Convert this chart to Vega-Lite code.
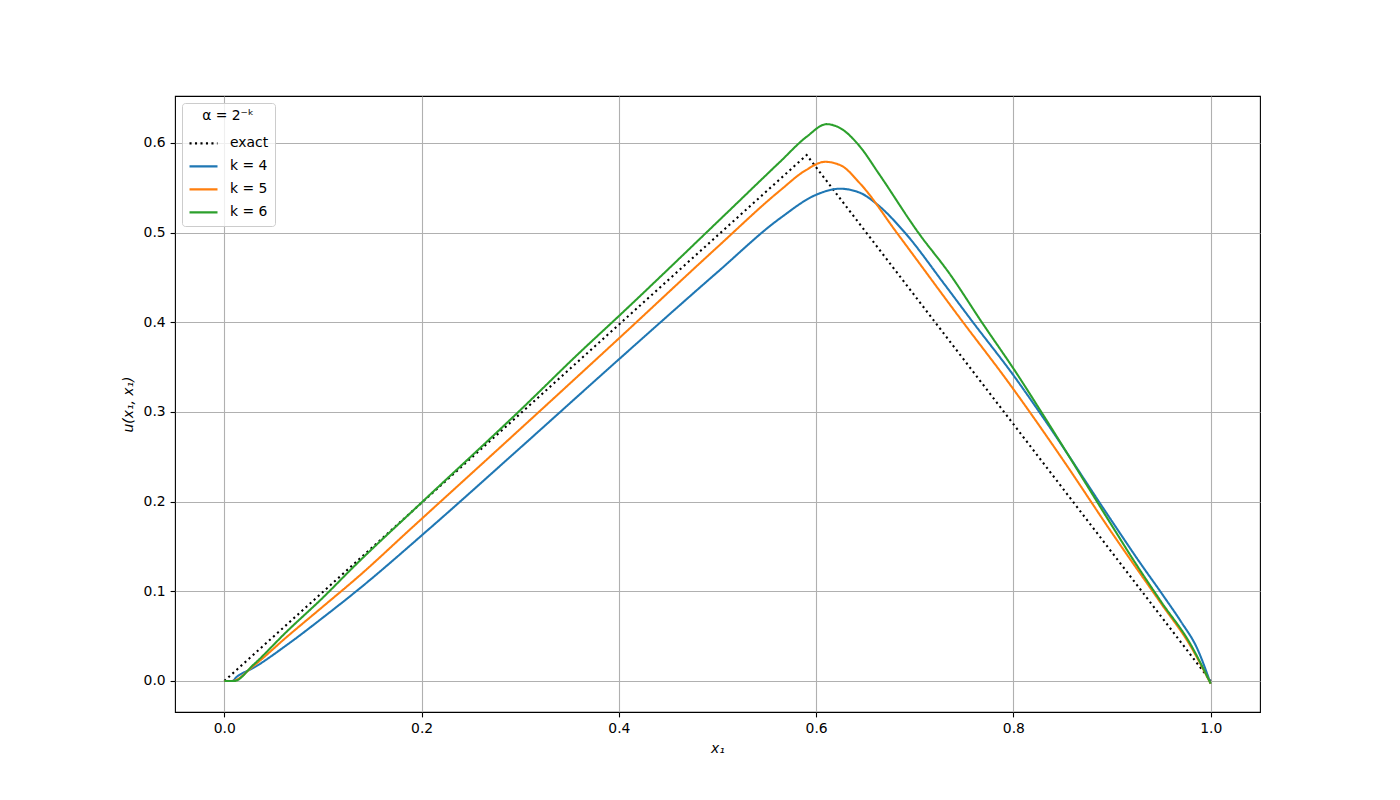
{
  "$schema": "https://vega.github.io/schema/vega-lite/v6.json",
  "width": 1085,
  "height": 616,
  "autosize": {"type": "none"},
  "padding": {"left": 175, "top": 96, "right": 140, "bottom": 88},
  "background": "white",
  "config": {
    "font": "DejaVu Sans",
    "view": {"stroke": "black", "strokeWidth": 1.1},
    "axis": {
      "domain": false,
      "grid": true,
      "gridColor": "#b0b0b0",
      "gridWidth": 1.1,
      "tickColor": "black",
      "tickSize": 4.9,
      "tickWidth": 1.1,
      "labelFontSize": 13.9,
      "labelColor": "black",
      "labelPadding": 4.9,
      "titleFontSize": 13.9,
      "titleFontWeight": "normal",
      "titleColor": "black"
    }
  },
  "data": {
    "values": [
      {"series": "exact", "x": 0, "y": 0},
      {"series": "exact", "x": 0.5904, "y": 0.5866},
      {"series": "exact", "x": 1, "y": 0},

      {"series": "k = 4", "x": 0, "y": 0},
      {"series": "k = 4", "x": 0.008, "y": 0},
      {"series": "k = 4", "x": 0.0125, "y": 0.0045},
      {"series": "k = 4", "x": 0.0294, "y": 0.0145},
      {"series": "k = 4", "x": 0.0632, "y": 0.040},
      {"series": "k = 4", "x": 0.1, "y": 0.0707},
      {"series": "k = 4", "x": 0.1376, "y": 0.1035},
      {"series": "k = 4", "x": 0.206, "y": 0.168},
      {"series": "k = 4", "x": 0.3, "y": 0.260},
      {"series": "k = 4", "x": 0.4, "y": 0.3587},
      {"series": "k = 4", "x": 0.5, "y": 0.456},
      {"series": "k = 4", "x": 0.5634, "y": 0.516},
      {"series": "k = 4", "x": 0.6006, "y": 0.5425},
      {"series": "k = 4", "x": 0.624, "y": 0.549},
      {"series": "k = 4", "x": 0.6444, "y": 0.5445},
      {"series": "k = 4", "x": 0.6614, "y": 0.532},
      {"series": "k = 4", "x": 0.690, "y": 0.5},
      {"series": "k = 4", "x": 0.729, "y": 0.444},
      {"series": "k = 4", "x": 0.759, "y": 0.4},
      {"series": "k = 4", "x": 0.8, "y": 0.341},
      {"series": "k = 4", "x": 0.83, "y": 0.294},
      {"series": "k = 4", "x": 0.9, "y": 0.178},
      {"series": "k = 4", "x": 0.927, "y": 0.134},
      {"series": "k = 4", "x": 0.952, "y": 0.095},
      {"series": "k = 4", "x": 0.97, "y": 0.066},
      {"series": "k = 4", "x": 0.986, "y": 0.037},
      {"series": "k = 4", "x": 1, "y": -0.003},

      {"series": "k = 5", "x": 0, "y": 0},
      {"series": "k = 5", "x": 0.008, "y": 0},
      {"series": "k = 5", "x": 0.0294, "y": 0.0167},
      {"series": "k = 5", "x": 0.0632, "y": 0.049},
      {"series": "k = 5", "x": 0.1, "y": 0.083},
      {"series": "k = 5", "x": 0.1376, "y": 0.118},
      {"series": "k = 5", "x": 0.1873, "y": 0.168},
      {"series": "k = 5", "x": 0.3, "y": 0.281},
      {"series": "k = 5", "x": 0.4, "y": 0.382},
      {"series": "k = 5", "x": 0.5, "y": 0.484},
      {"series": "k = 5", "x": 0.5634, "y": 0.547},
      {"series": "k = 5", "x": 0.59, "y": 0.570},
      {"series": "k = 5", "x": 0.609, "y": 0.579},
      {"series": "k = 5", "x": 0.625, "y": 0.575},
      {"series": "k = 5", "x": 0.6444, "y": 0.555},
      {"series": "k = 5", "x": 0.6817, "y": 0.5},
      {"series": "k = 5", "x": 0.749, "y": 0.4},
      {"series": "k = 5", "x": 0.793, "y": 0.336},
      {"series": "k = 5", "x": 0.85, "y": 0.247},
      {"series": "k = 5", "x": 0.9, "y": 0.165},
      {"series": "k = 5", "x": 0.95, "y": 0.086},
      {"series": "k = 5", "x": 0.979, "y": 0.040},
      {"series": "k = 5", "x": 1, "y": -0.003},

      {"series": "k = 6", "x": 0, "y": 0},
      {"series": "k = 6", "x": 0.01, "y": 0},
      {"series": "k = 6", "x": 0.0294, "y": 0.018},
      {"series": "k = 6", "x": 0.0632, "y": 0.055},
      {"series": "k = 6", "x": 0.1, "y": 0.093},
      {"series": "k = 6", "x": 0.1308, "y": 0.127},
      {"series": "k = 6", "x": 0.2, "y": 0.199},
      {"series": "k = 6", "x": 0.3, "y": 0.302},
      {"series": "k = 6", "x": 0.36, "y": 0.366},
      {"series": "k = 6", "x": 0.4, "y": 0.407},
      {"series": "k = 6", "x": 0.5, "y": 0.512},
      {"series": "k = 6", "x": 0.5634, "y": 0.579},
      {"series": "k = 6", "x": 0.5904, "y": 0.607},
      {"series": "k = 6", "x": 0.6107, "y": 0.621},
      {"series": "k = 6", "x": 0.6237, "y": 0.617},
      {"series": "k = 6", "x": 0.6444, "y": 0.596},
      {"series": "k = 6", "x": 0.663, "y": 0.5667},
      {"series": "k = 6", "x": 0.7036, "y": 0.5},
      {"series": "k = 6", "x": 0.7357, "y": 0.4536},
      {"series": "k = 6", "x": 0.768, "y": 0.4},
      {"series": "k = 6", "x": 0.8033, "y": 0.343},
      {"series": "k = 6", "x": 0.83, "y": 0.297},
      {"series": "k = 6", "x": 0.9, "y": 0.173},
      {"series": "k = 6", "x": 0.9216, "y": 0.135},
      {"series": "k = 6", "x": 0.95, "y": 0.088},
      {"series": "k = 6", "x": 0.979, "y": 0.042},
      {"series": "k = 6", "x": 1, "y": -0.003}
    ]
  },
  "encoding": {
    "x": {
      "field": "x",
      "type": "quantitative",
      "scale": {"domain": [-0.05, 1.05], "nice": false, "zero": false},
      "axis": {
        "values": [0, 0.2, 0.4, 0.6, 0.8, 1.0],
        "format": ".1f",
        "title": "x₁",
        "titleFontStyle": "italic",
        "titlePadding": 6
      }
    },
    "y": {
      "field": "y",
      "type": "quantitative",
      "scale": {"domain": [-0.0346, 0.6524], "nice": false, "zero": false},
      "axis": {
        "values": [0, 0.1, 0.2, 0.3, 0.4, 0.5, 0.6],
        "format": ".1f",
        "title": "u(x₁, x₁)",
        "titleFontStyle": "italic",
        "titlePadding": 8
      }
    },
    "color": {
      "field": "series",
      "type": "nominal",
      "scale": {
        "domain": ["exact", "k = 4", "k = 5", "k = 6"],
        "range": ["black", "#1f77b4", "#ff7f0e", "#2ca02c"]
      },
      "legend": {
        "title": "α = 2⁻ᵏ",
        "orient": "top-left",
        "offset": 7,
        "titleFontWeight": "normal",
        "titleFontSize": 13.9,
        "titleColor": "black",
        "titleAnchor": "middle",
        "titleAlign": "center",
        "titlePadding": 5,
        "labelFontSize": 13.9,
        "labelColor": "black",
        "labelOffset": 11,
        "symbolType": "stroke",
        "symbolSize": 784,
        "symbolStrokeWidth": 2.08,
        "strokeColor": "#cccccc",
        "fillColor": "rgba(255,255,255,0.8)",
        "cornerRadius": 3,
        "padding": 6,
        "rowPadding": -3
      }
    },
    "strokeDash": {
      "field": "series",
      "type": "nominal",
      "scale": {
        "domain": ["exact", "k = 4", "k = 5", "k = 6"],
        "range": [[2.08, 3.4], [1, 0], [1, 0], [1, 0]]
      },
      "legend": {
        "title": "α = 2⁻ᵏ",
        "orient": "top-left",
        "offset": 7,
        "symbolType": "stroke"
      }
    }
  },
  "layer": [
    {
      "transform": [{"filter": "datum.series === 'exact'"}],
      "mark": {"type": "line", "strokeWidth": 2.08, "strokeCap": "butt", "interpolate": "linear"}
    },
    {
      "transform": [{"filter": "datum.series !== 'exact'"}],
      "mark": {"type": "line", "strokeWidth": 2.08, "strokeCap": "butt", "interpolate": "monotone"}
    }
  ]
}
